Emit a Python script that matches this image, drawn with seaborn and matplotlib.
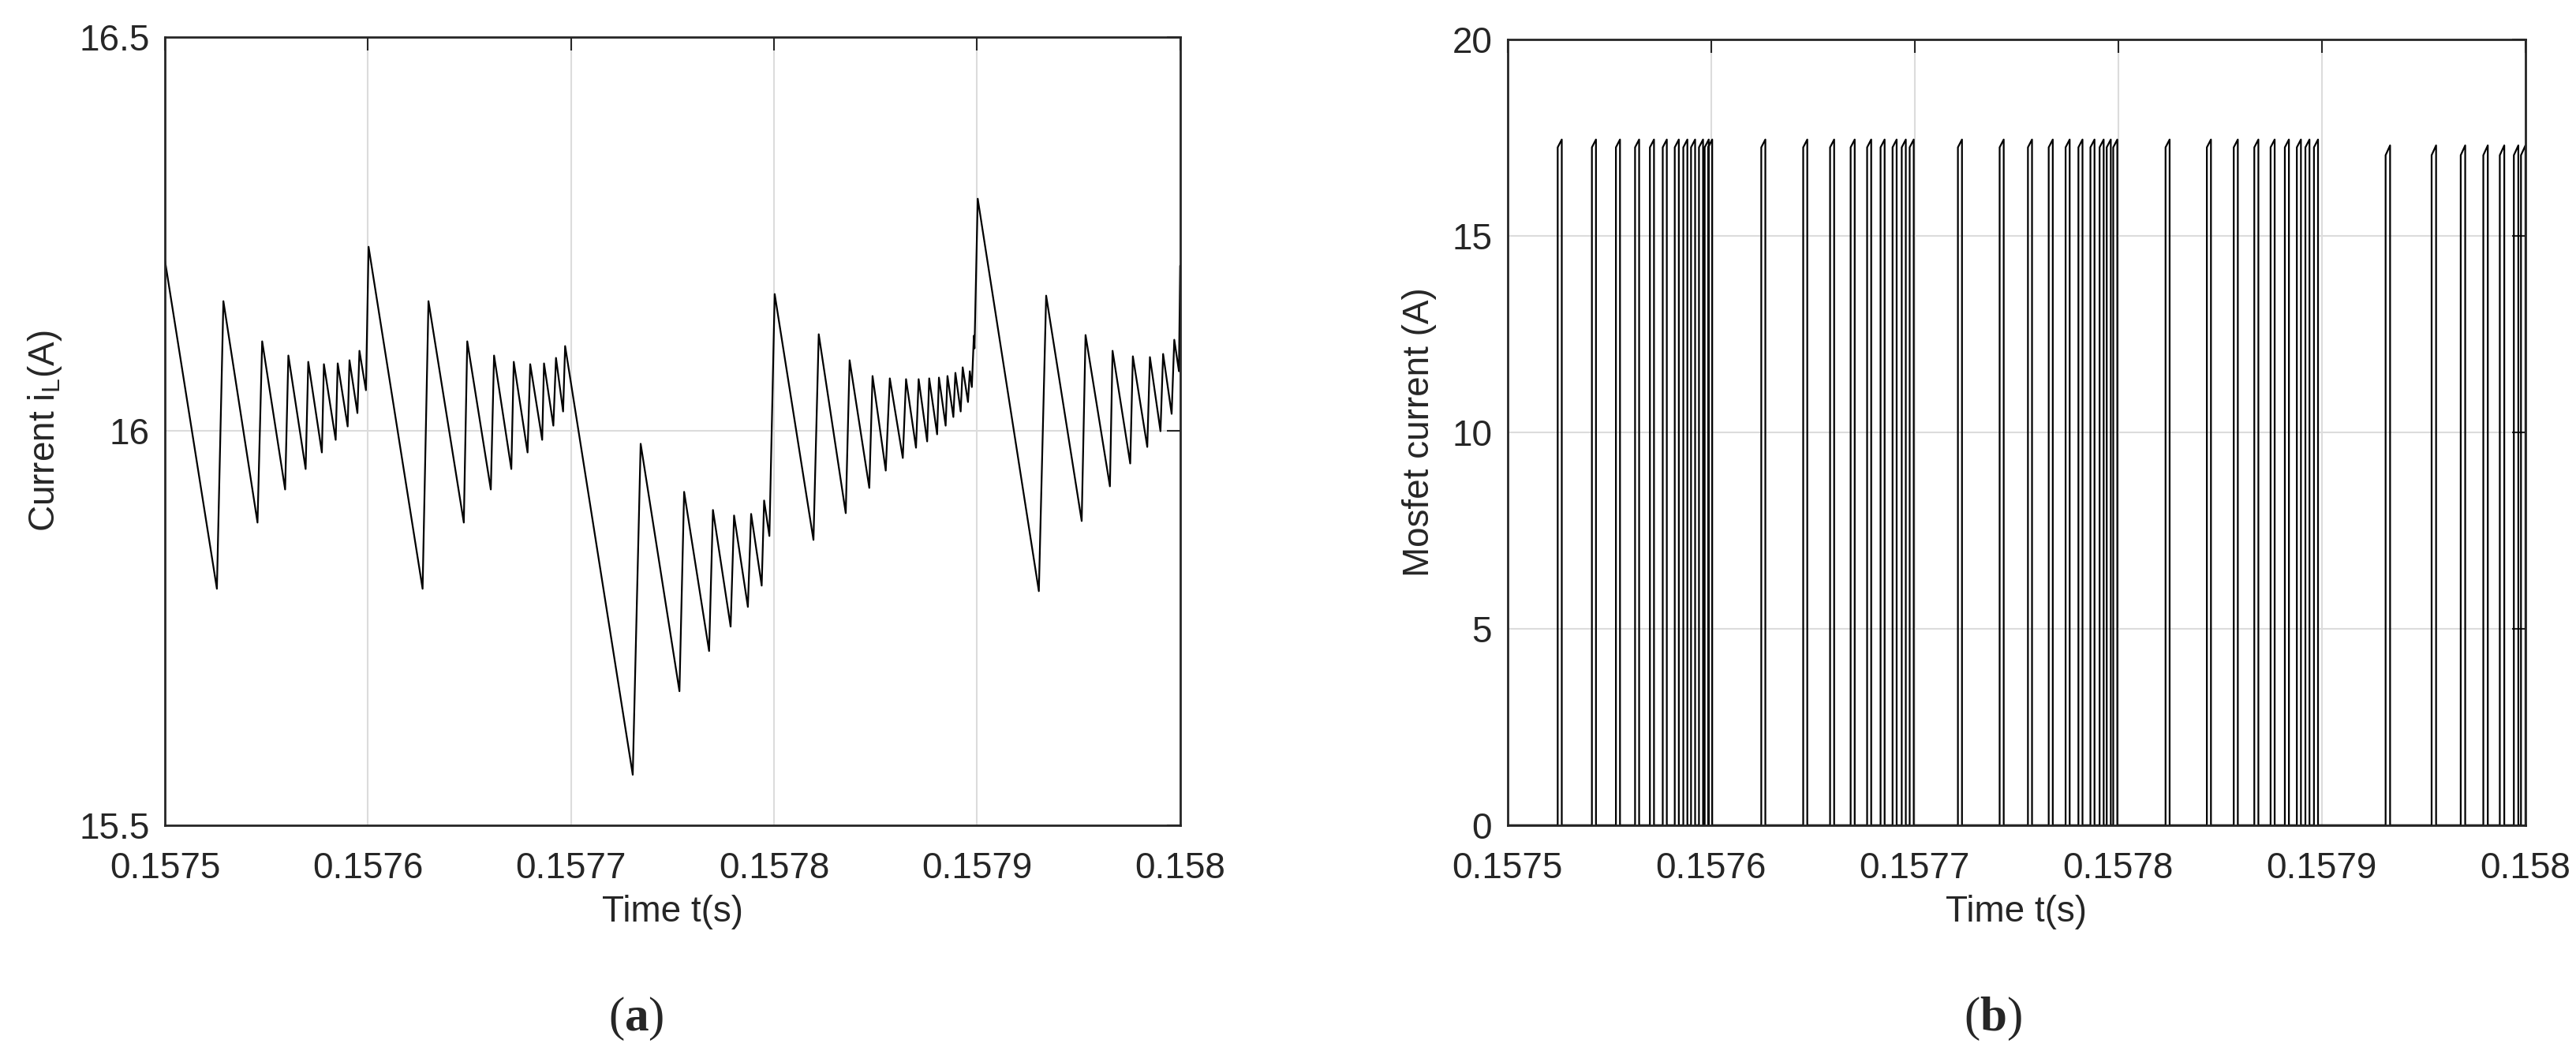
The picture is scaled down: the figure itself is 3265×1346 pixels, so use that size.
import matplotlib
matplotlib.use("Agg")
import matplotlib.pyplot as plt
import numpy as np
import pandas as pd
import seaborn as sns

sns.set_theme(style="white")
plt.rcParams['font.family'] = ['Liberation Sans', 'DejaVu Sans']
plt.rcParams['mathtext.fontset'] = 'custom'
plt.rcParams['mathtext.rm'] = 'Liberation Sans'
plt.rcParams['mathtext.it'] = 'Liberation Sans'
plt.rcParams['mathtext.bf'] = 'Liberation Serif:bold'

T0 = 0.1575

# (a) inductor current: vertices, time offset in microseconds from T0, current in A
il_t_us = [0, 25.6, 28.8, 45.6, 47.9, 59.2, 60.8, 69.3, 70.6, 77.3, 78.3, 84.1, 85.1, 90.0, 90.9,
           94.8, 95.8, 99.0, 100.3, 126.9, 129.8, 147.2, 148.9, 160.5, 162.1, 170.6, 171.8, 178.6,
           179.9, 185.8, 186.7, 191.3, 192.6, 196.1, 197.1, 230.4, 234.3, 253.4, 255.7, 268.0, 269.9,
           278.6, 280.3, 287.1, 288.7, 293.9, 295.1, 297.7, 300.3, 319.4, 322.0, 335.3, 337.2, 346.9,
           348.5, 355.0, 357.0, 363.4, 365.0, 369.9, 371.2, 375.4, 376.4, 380.3, 381.2, 384.5, 385.4,
           388.3, 389.3, 391.9, 392.9, 395.5, 396.4, 397.4, 398.4, 398.7, 400.3, 430.4, 434.0, 451.5,
           453.4, 465.4, 466.7, 475.4, 476.7, 483.8, 485.1, 490.3, 491.6, 495.8, 497.1, 499.4, 500.0]
il_a = [16.217, 15.800, 16.165, 15.884, 16.114, 15.926, 16.096, 15.952, 16.088, 15.973, 16.085,
        15.989, 16.086, 16.006, 16.090, 16.023, 16.102, 16.052, 16.234, 15.800, 16.165, 15.884,
        16.114, 15.926, 16.096, 15.952, 16.088, 15.973, 16.085, 15.989, 16.086, 16.007, 16.093,
        16.025, 16.108, 15.564, 15.984, 15.670, 15.923, 15.721, 15.900, 15.752, 15.893, 15.777,
        15.895, 15.804, 15.912, 15.867, 16.174, 15.862, 16.123, 15.896, 16.090, 15.928, 16.070,
        15.950, 16.067, 15.966, 16.066, 15.979, 16.066, 15.987, 16.067, 15.996, 16.068, 16.007,
        16.070, 16.018, 16.074, 16.025, 16.081, 16.037, 16.076, 16.056, 16.121, 16.105, 16.295,
        15.797, 16.172, 15.886, 16.122, 15.930, 16.102, 15.959, 16.095, 15.980, 16.094, 16.000,
        16.098, 16.022, 16.116, 16.076, 16.210]

# (b) mosfet current pulses: turn-on time offsets (us), pulse top start/end (A)
pulse_on_us = [24.7, 41.5, 53.3, 62.7, 70.0, 76.3, 82.2, 86.4, 90.2, 94.1, 96.9, 98.6,
               124.7, 145.3, 158.5, 168.6, 176.7, 183.3, 189.2, 193.7, 197.6,
               221.3, 241.8, 255.7, 265.9, 274.2, 280.5, 286.4, 290.9, 294.4, 297.6,
               323.3, 343.6, 356.8, 366.9, 374.9, 381.9, 387.8, 392.0, 396.2,
               431.4, 454.0, 468.3, 479.4, 487.5, 494.4, 497.9]
pulse_width_us = [2.0] * 40 + [2.2] * 7
pulse_start_a = [17.25] * 40 + [17.05] * 7
pulse_end_a = [17.45] * 40 + [17.3] * 7

xticks = [0.1575, 0.1576, 0.1577, 0.1578, 0.1579, 0.158]
xticklabels = ['0.1575', '0.1576', '0.1577', '0.1578', '0.1579', '0.158']

df_il = pd.DataFrame({'t': T0 + np.array(il_t_us) * 1e-6, 'i': il_a})

# build the step-like mosfet waveform from the pulse table
mt, mi = [T0], [0.0]
for on, w, a0, a1 in zip(pulse_on_us, pulse_width_us, pulse_start_a, pulse_end_a):
    ton = T0 + on * 1e-6
    toff = T0 + (on + w) * 1e-6
    mt += [ton, ton, toff, toff]
    mi += [0.0, a0, a1, 0.0]
mt.append(T0 + 500e-6)
mi.append(0.0)
df_m = pd.DataFrame({'t': mt, 'i': mi})

fig = plt.figure(figsize=(32.66, 13.46), dpi=100)
ax1 = fig.add_axes([0.064, 0.223, 0.394, 0.742])
ax2 = fig.add_axes([0.585, 0.223, 0.395, 0.740])

sns.lineplot(data=df_il, x='t', y='i', ax=ax1, color='black', linewidth=1.6, sort=False, estimator=None)
sns.lineplot(data=df_m, x='t', y='i', ax=ax2, color='black', linewidth=1.6, sort=False, estimator=None)

ax1.set_ylim(15.5, 16.5)
ax1.set_yticks([15.5, 16, 16.5])
ax1.set_yticklabels(['15.5', '16', '16.5'])
ax1.set_ylabel('Current i$_\\mathrm{L}$(A)', fontsize=33, labelpad=14)
ax2.set_ylim(0, 20)
ax2.set_yticks([0, 5, 10, 15, 20])
ax2.set_ylabel('Mosfet current (A)', fontsize=33, labelpad=14)

for ax in (ax1, ax2):
    ax.set_xlim(0.1575, 0.158)
    ax.set_xticks(xticks)
    ax.set_xticklabels(xticklabels)
    ax.set_xlabel('Time t(s)', fontsize=33, labelpad=8)
    ax.grid(True, color='#dcdcdc', linewidth=1.5)
    ax.tick_params(axis='both', direction='in', length=12, width=1.5, labelsize=33,
                   top=True, right=True, colors='#262626')
    ax.tick_params(axis='x', pad=24)
    ax.tick_params(axis='y', pad=14)
    for s in ax.spines.values():
        s.set_color('#262626')
        s.set_linewidth(2)

fig.text(0.247, 0.03, '($\\mathbf{a}$)', fontsize=44, ha='center', family='Liberation Serif')
fig.text(0.7735, 0.03, '($\\mathbf{b}$)', fontsize=44, ha='center', family='Liberation Serif')

fig.savefig('out.png', dpi=100)
